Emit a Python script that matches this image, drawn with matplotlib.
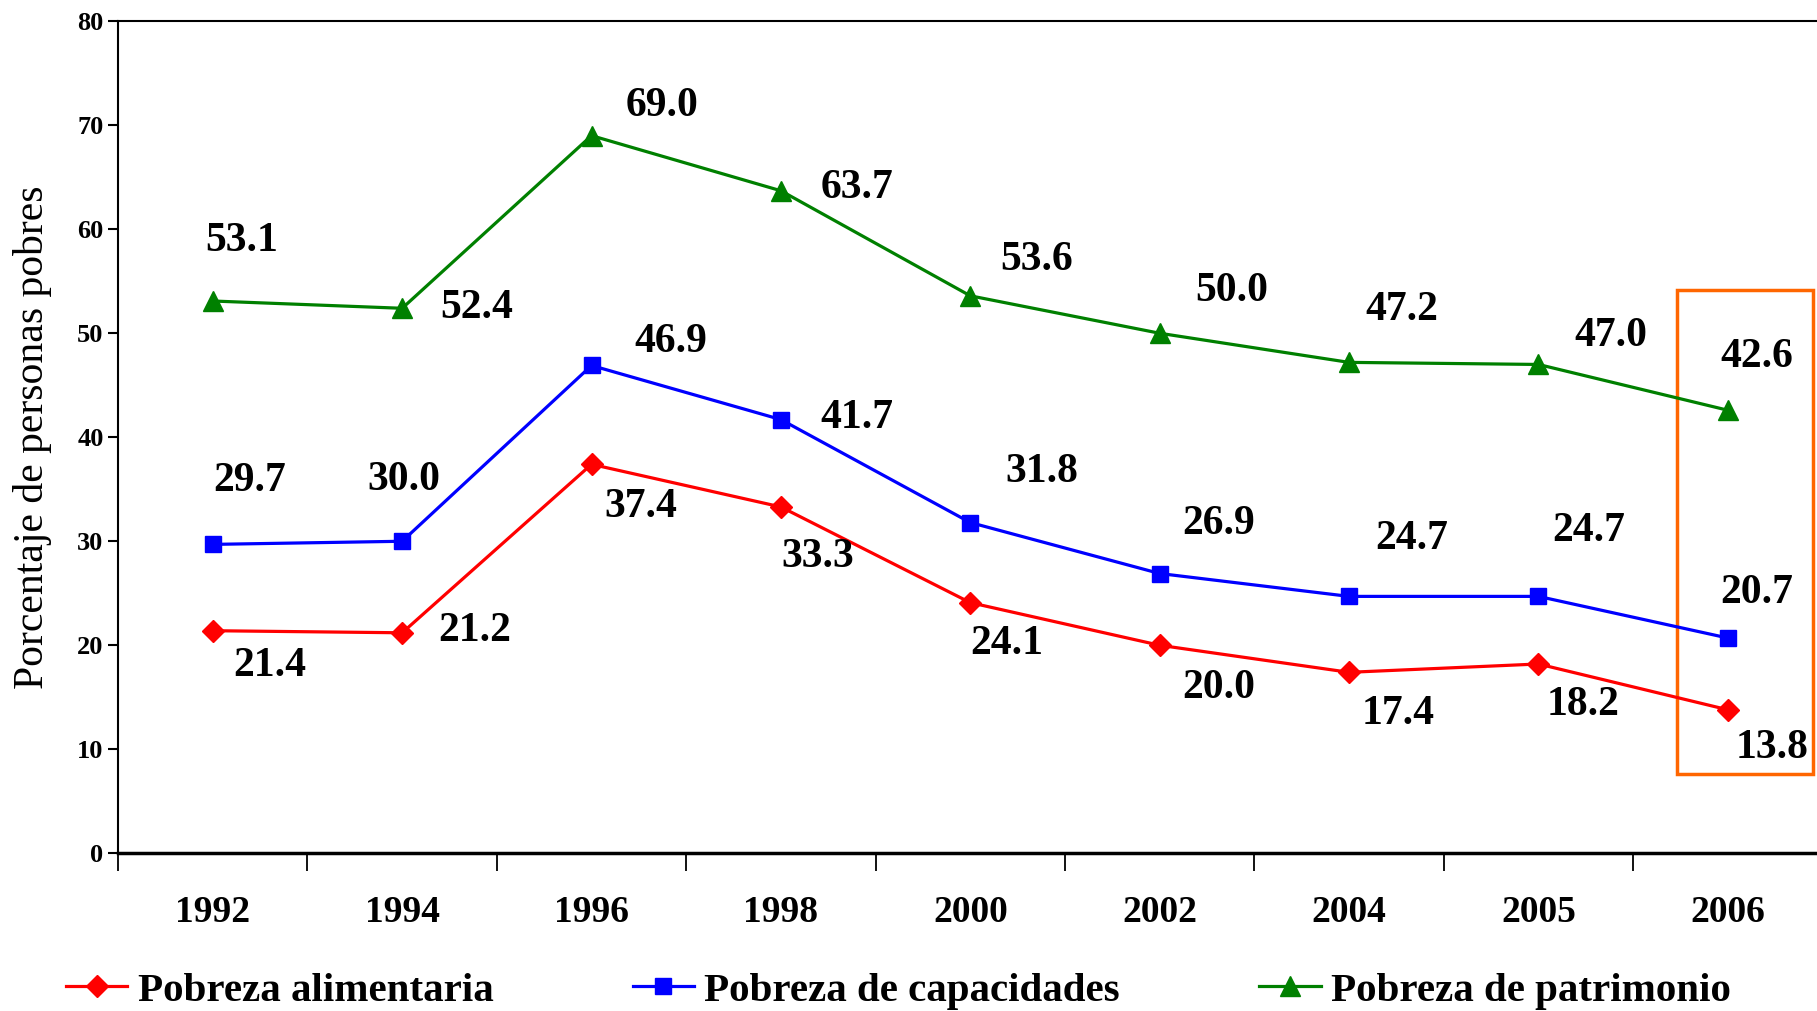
import numpy as np
import matplotlib.pyplot as plt
from matplotlib.patches import Rectangle

plt.rcParams['font.family'] = ['Liberation Serif', 'DejaVu Serif']

years = ['1992', '1994', '1996', '1998', '2000', '2002', '2004', '2005', '2006']
alimentaria = [21.4, 21.2, 37.4, 33.3, 24.1, 20.0, 17.4, 18.2, 13.8]
capacidades = [29.7, 30.0, 46.9, 41.7, 31.8, 26.9, 24.7, 24.7, 20.7]
patrimonio = [53.1, 52.4, 69.0, 63.7, 53.6, 50.0, 47.2, 47.0, 42.6]
names = ['Pobreza alimentaria', 'Pobreza de capacidades', 'Pobreza de patrimonio']

# label offsets in pixels (dx, dy) relative to each point
off_ali = [(57, -35), (73, 2), (49, -43), (37, -50), (36, -41), (59, -43), (49, -42), (45, -41), (44, -38)]
off_cap = [(37, 63), (2, 61), (79, 23), (76, 2), (72, 51), (59, 50), (63, 57), (50, 65), (29, 45)]
off_pat = [(29, 60), (75, 0), (71, 30), (76, 3), (66, 36), (72, 42), (53, 52), (72, 28), (29, 53)]

x = np.arange(len(years))

fig = plt.figure(figsize=(18.17, 10.11), dpi=100)
ax = fig.add_axes([0.065, 0.156, 0.938, 0.823])

series = [
    (alimentaria, '#FF0000', 'D', 11, off_ali),
    (capacidades, '#0000FF', 's', 12, off_cap),
    (patrimonio, '#008000', '^', 14, off_pat),
]
for (vals, col, mk, ms, offs), nm in zip(series, names):
    ax.plot(x, vals, color=col, lw=2.3, marker=mk, markersize=ms,
            markeredgecolor=col, label=nm)
    for xi, v, (dx, dy) in zip(x, vals, offs):
        ax.annotate(f'{v:.1f}', (xi, v), xytext=(dx, dy), textcoords='offset pixels',
                    ha='center', va='center', fontsize=30, fontweight='bold')

# highlight box around last year
last = x[-1]
ax.add_patch(Rectangle((last - 0.27, 7.6), 0.72, 46.6,
                       fill=False, edgecolor='#FF6600', lw=2.5, clip_on=False))

ax.set_xlim(-0.5, len(years) - 0.5)
ax.set_ylim(0, 80)
ax.set_yticks(np.arange(0, 81, 10))
ax.tick_params(axis='y', labelsize=19, length=7, width=1.5, direction='out')
for t in ax.get_yticklabels():
    t.set_fontweight('bold')

ax.set_xticks(np.arange(-0.5, len(years) - 0.5, 1))
ax.set_xticklabels([])
ax.tick_params(axis='x', which='major', length=13, width=1.3, direction='out')
ax.set_xticks(x, minor=True)
ax.set_xticklabels(years, minor=True, fontsize=27, fontweight='bold')
ax.tick_params(axis='x', which='minor', length=0, pad=30)

ax.spines['right'].set_visible(False)
ax.spines['left'].set_linewidth(1.5)
ax.spines['top'].set_linewidth(1.5)
ax.spines['bottom'].set_linewidth(2.5)

ax.set_ylabel('Porcentaje de personas pobres', fontsize=30, labelpad=18)

leg = fig.legend(loc='lower left', bbox_to_anchor=(0.016, -0.035), ncol=3,
                 frameon=False, prop={'size': 29.5, 'weight': 'bold'},
                 handlelength=1.5, handletextpad=0.25, columnspacing=3.4)

fig.savefig('out.png', dpi=100)
